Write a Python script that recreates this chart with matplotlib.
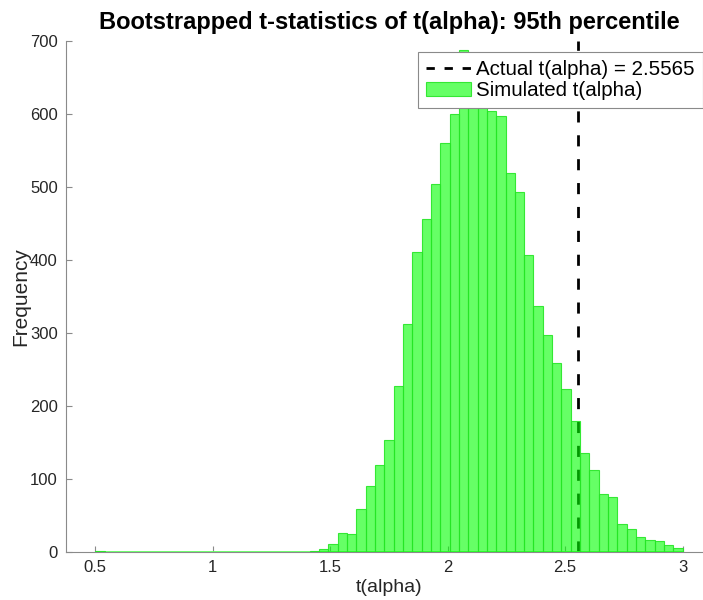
import numpy as np
import matplotlib
matplotlib.use("Agg")
import matplotlib.pyplot as plt
from matplotlib.lines import Line2D

plt.rcParams['font.family'] = ['Liberation Sans', 'DejaVu Sans']

# histogram data (63 equal bins between bin_lo and bin_hi)
bin_lo = 0.5
bin_hi = 3.0
counts = [1, 0, 0, 0, 0, 0, 0, 0, 0, 0,
          0, 0, 0, 0, 0, 0, 0, 0, 0, 0,
          0, 0, 0, 2, 4, 11, 26, 24, 59, 90,
          119, 154, 227, 313, 411, 457, 504, 560, 601, 688,
          655, 640, 604, 598, 520, 493, 407, 337, 297, 259,
          224, 180, 136, 112, 79, 75, 38, 32, 21, 17,
          15, 9, 5]
actual_t = 2.5565

title = "Bootstrapped t-statistics of t(alpha): 95th percentile"
xlabel = "t(alpha)"
ylabel = "Frequency"
xticks = [0.5, 1, 1.5, 2, 2.5, 3]
xticklabels = ["0.5", "1", "1.5", "2", "2.5", "3"]
yticks = [0, 100, 200, 300, 400, 500, 600, 700]

W, H = 703, 600
fig = plt.figure(figsize=(W / 100, H / 100), dpi=100)
# axes reaches a little past the right edge like the cropped original
ax = fig.add_axes([66 / W, 1 - 552 / H, (712 - 66) / W, (552 - 41.3) / H])

edges = np.linspace(bin_lo, bin_hi, len(counts) + 1)
bars = ax.bar(edges[:-1], counts, width=np.diff(edges), align='edge',
              facecolor=(0, 1, 0, 0.6), edgecolor=(0.15, 0.9, 0.15, 0.9),
              linewidth=0.8, label="Simulated t(alpha)", zorder=3)
# empty bins still show their edge along the baseline
ax.hlines(0, edges[0], edges[-1], color=(0.4, 1.0, 0.4), linewidth=2.0,
          zorder=2.8)
ax.axvline(actual_t, color='black', linestyle=(0, (4, 4.6)), linewidth=2.0,
           zorder=1)

ax.set_xlim(0.375, 3.125)
ax.set_ylim(0, 700)
ax.set_xticks(xticks)
ax.set_xticklabels(xticklabels)
ax.set_yticks(yticks)

for side in ['top', 'right']:
    ax.spines[side].set_visible(False)
for side in ['left', 'bottom']:
    ax.spines[side].set_color('#8a8a8a')
    ax.spines[side].set_linewidth(0.8)
ax.tick_params(direction='in', length=4, width=0.8, color='#8a8a8a',
               labelcolor='#262626', labelsize=12, pad=6)

ax.set_title(title, fontsize=17, fontweight='bold', pad=9)
ax.set_xlabel(xlabel, fontsize=14, color='#262626', labelpad=3)
ax.set_ylabel(ylabel, fontsize=15, color='#262626', labelpad=0)

handles = [Line2D([], [], color='black', linestyle=(0, (3, 3.5)), linewidth=2.0),
           bars.patches[40]]
leg = fig.legend(handles, ["Actual t(alpha) = 2.5565", "Simulated t(alpha)"],
                 loc='upper left', bbox_to_anchor=(417.7 / W, 1 - 51.7 / H),
                 fontsize=14.8, frameon=True, fancybox=False, framealpha=1,
                 edgecolor='#8a8a8a', handlelength=2.2, handletextpad=0.25,
                 labelspacing=0.1, borderpad=0.4, borderaxespad=0)
leg.get_frame().set_linewidth(0.8)

fig.savefig("out.png", dpi=100)
